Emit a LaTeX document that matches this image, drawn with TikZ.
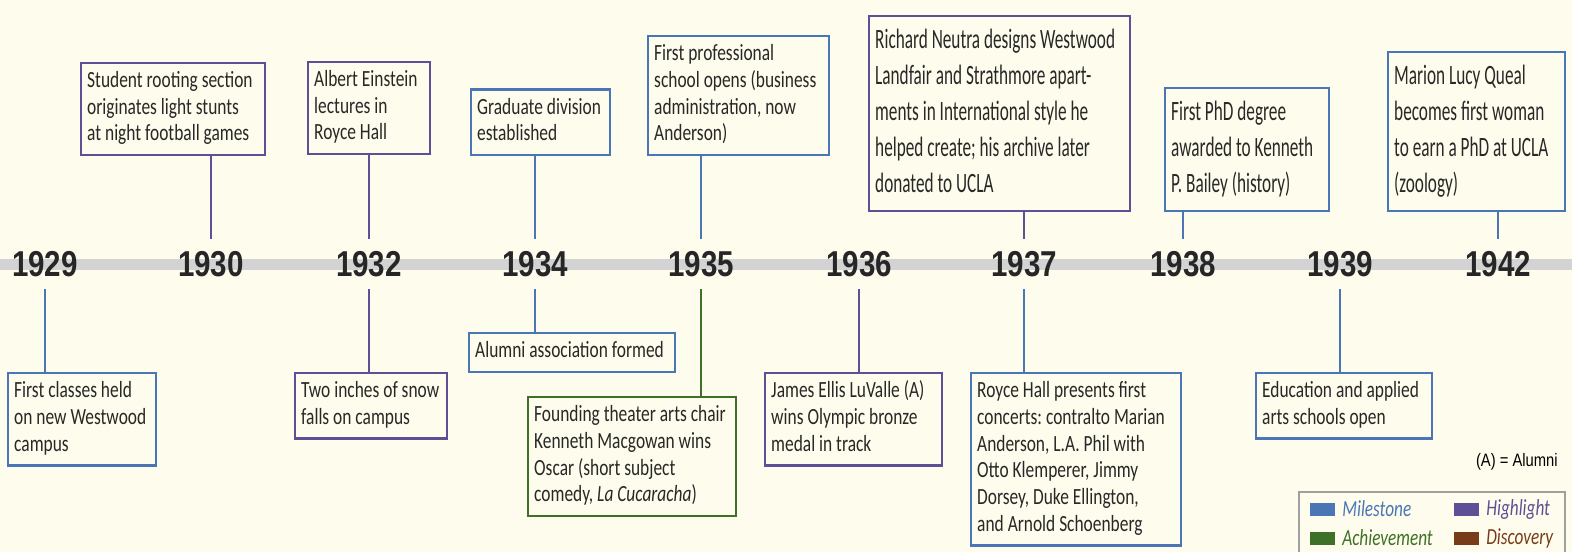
\documentclass[tikz,border=0pt]{standalone}
\usepackage{fontspec}
\usetikzlibrary{positioning}
\newfontfamily\boxfont[FakeStretch=0.75]{Carlito}
\newfontfamily\tallfont[FakeStretch=0.615]{Carlito}
\newfontfamily\yearfont[FakeStretch=0.82]{Liberation Sans}
\definecolor{paper}{RGB}{254,252,236}
\definecolor{bar}{RGB}{211,211,211}
\definecolor{yeartext}{RGB}{38,38,38}
\definecolor{boxtext}{RGB}{40,40,40}
\definecolor{milestone}{RGB}{74,118,182}
\definecolor{highlight}{RGB}{94,80,150}
\definecolor{achievement}{RGB}{63,112,40}
\definecolor{discovery}{RGB}{120,60,25}
\definecolor{keyframe}{RGB}{160,160,160}
\begin{document}
\frenchspacing
\begin{tikzpicture}[x=.5pt, y=-.5pt,
    yearlabel/.style={font=\yearfont\bfseries\fontsize{18}{18}\selectfont, text=yeartext, inner sep=6pt},
    evbox/.style={draw, line width=1.2pt, align=flush left, inner xsep=3pt, inner ysep=3pt, text=boxtext,
        font=\boxfont\fontsize{11.6}{13.35}\selectfont,
        execute at begin node={\hyphenpenalty=10000\strut}, execute at end node=\strut},
    tallbox/.style={evbox, inner ysep=3.75pt, font=\tallfont\fontsize{14}{18}\selectfont},
    stem/.style={line width=1pt},
    swatch/.style={minimum width=12.5pt, minimum height=6.5pt, inner sep=0pt},
    keytext/.style={font=\boxfont\itshape\fontsize{11.5}{11.5}\selectfont, inner sep=0pt, right=3.5pt of #1}]
    \useasboundingbox[fill=paper] (0,0) rectangle (1572,552);
    \fill[bar] (0,259) rectangle (1572,270);
    \foreach \yr/\x in {1929/45, 1930/211, 1932/369, 1934/535, 1935/701, 1936/859,
            1937/1024, 1938/1183, 1939/1340, 1942/1498}
        \node[yearlabel] (y\yr) at (\x,264) {\yr};
    % above the bar
    \node[evbox, draw=highlight, text width=86pt, anchor=south west] (b1930) at (80,156)
        {Student rooting section\\originates light stunts\\at night football games};
    \node[evbox, draw=highlight, text width=55pt, anchor=south west] (b1932a) at (307,155)
        {Albert Einstein\\lectures in\\Royce Hall};
    \node[evbox, draw=milestone, text width=63.5pt, anchor=south west] (b1934a) at (470,156)
        {Graduate division\\established};
    \node[evbox, draw=milestone, text width=84.5pt, anchor=south west] (b1935a) at (647,156)
        {First professional\\school opens (business\\administration, now\\Anderson)};
    \node[tallbox, draw=highlight, text width=124.5pt, anchor=south west] (b1937a) at (868,212)
        {Richard Neutra designs Westwood\\Landfair and Strathmore apart-\\ments in International style he\\helped create; his archive later\\donated to UCLA};
    \node[tallbox, draw=milestone, text width=76pt, anchor=south west] (b1938) at (1164,212)
        {First PhD degree\\awarded to Kenneth\\P. Bailey (history)};
    \node[tallbox, draw=milestone, text width=82.5pt, anchor=south west] (b1942) at (1387,212)
        {Marion Lucy Queal\\becomes first woman\\to earn a PhD at UCLA\\(zoology)};
    % below the bar
    \node[evbox, draw=milestone, text width=68pt, anchor=north west] (b1929) at (7,372)
        {First classes held\\on new Westwood\\campus};
    \node[evbox, draw=highlight, text width=70pt, anchor=north west] (b1932b) at (294,372)
        {Two inches of snow\\falls on campus};
    \node[evbox, draw=milestone, text width=97pt, anchor=north west] (b1934b) at (468,332)
        {Alumni association formed};
    \node[evbox, draw=achievement, text width=98pt, anchor=north west] (b1935b) at (527,396)
        {Founding theater arts chair\\Kenneth Macgowan wins\\Oscar (short subject\\comedy, \textit{La Cucaracha})};
    \node[evbox, draw=highlight, text width=82.5pt, anchor=north west] (b1936) at (764,372)
        {James Ellis LuValle (A)\\wins Olympic bronze\\medal in track};
    \node[evbox, draw=milestone, text width=99pt, anchor=north west] (b1937b) at (970,372)
        {Royce Hall presents first\\concerts: contralto Marian\\Anderson, L.A. Phil with\\Otto Klemperer, Jimmy\\Dorsey, Duke Ellington,\\and Arnold Schoenberg};
    \node[evbox, draw=milestone, text width=82pt, anchor=north west] (b1939) at (1255,372)
        {Education and applied\\arts schools open};
    % stems
    \draw[stem, highlight] (y1930.north) -- (y1930.north |- b1930.south);
    \draw[stem, highlight] (y1932.north) -- (y1932.north |- b1932a.south);
    \draw[stem, milestone] (y1934.north) -- (y1934.north |- b1934a.south);
    \draw[stem, milestone] (y1935.north) -- (y1935.north |- b1935a.south);
    \draw[stem, highlight] (y1937.north) -- (y1937.north |- b1937a.south);
    \draw[stem, milestone] (y1938.north) -- (y1938.north |- b1938.south);
    \draw[stem, milestone] (y1942.north) -- (y1942.north |- b1942.south);
    \draw[stem, milestone] (y1929.south) -- (y1929.south |- b1929.north);
    \draw[stem, highlight] (y1932.south) -- (y1932.south |- b1932b.north);
    \draw[stem, milestone] (y1934.south) -- (y1934.south |- b1934b.north);
    \draw[stem, achievement] (y1935.south) -- (y1935.south |- b1935b.north);
    \draw[stem, highlight] (y1936.south) -- (y1936.south |- b1936.north);
    \draw[stem, milestone] (y1937.south) -- (y1937.south |- b1937b.north);
    \draw[stem, milestone] (y1939.south) -- (y1939.south |- b1939.north);
    % key
    \node[anchor=east, inner sep=0pt, text=black, font=\yearfont\fontsize{9}{9}\selectfont] (alumni) at (1558,462) {(A) = Alumni};
    \draw[keyframe, line width=1.2pt] (1299,552) -- (1299,492) -- (1565,492) -- (1565,552);
    \node[swatch, fill=milestone] (kmile) at (1322,509) {};
    \node[keytext=kmile, text=milestone] {Milestone};
    \node[swatch, fill=highlight] (khigh) at (1466,509) {};
    \node[keytext=khigh, text=highlight] {Highlight};
    \node[swatch, fill=achievement] (kachv) at (1322,538) {};
    \node[keytext=kachv, text=achievement] {Achievement};
    \node[swatch, fill=discovery] (kdisc) at (1466,538) {};
    \node[keytext=kdisc, text=discovery] {Discovery};
\end{tikzpicture}
\end{document}
